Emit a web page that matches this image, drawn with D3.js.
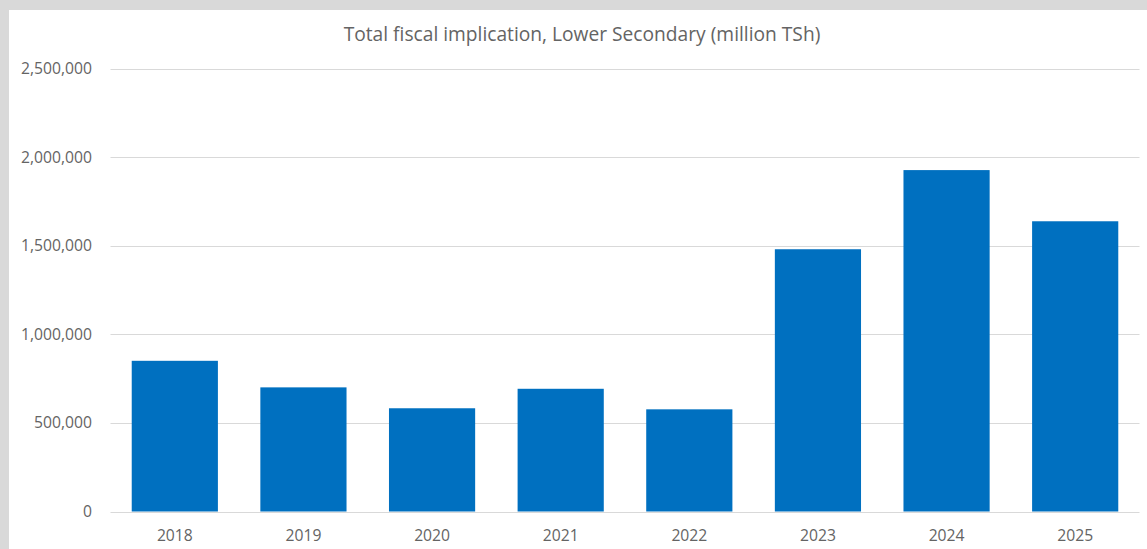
<!DOCTYPE html>
<html>
<head>
<meta charset="utf-8">
<script src="https://cdn.jsdelivr.net/npm/d3@7"></script>
<style>
  html, body { margin: 0; padding: 0; background: #d9d9d9; }
  svg { display: block; }
  text { font-family: "Open Sans", "Noto Sans", sans-serif; fill: #646464; }
</style>
</head>
<body>
<svg id="chart"></svg>
<script>
// data
const years = ["2018", "2019", "2020", "2021", "2022", "2023", "2024", "2025"];
const values = [851000, 701000, 583000, 693000, 577000, 1481000, 1928000, 1639000];
const yTicks = [0, 500000, 1000000, 1500000, 2000000, 2500000];
const title = "Total fiscal implication, Lower Secondary (million TSh)";

const width = 1147;
const height = 549;
const svg = d3.select("#chart").attr("width", width).attr("height", height);

// white chart area, gray frame on top and left
svg.append("rect").attr("x", 0).attr("y", 0).attr("width", width).attr("height", height).attr("fill", "#d9d9d9");
svg.append("rect").attr("x", 9).attr("y", 10).attr("width", width - 9).attr("height", height - 10).attr("fill", "#fff");

const plot = { left: 110.5, right: 1139.5, top: 68.8, bottom: 511.5 };

const x = d3.scaleBand()
  .domain(years)
  .range([plot.left, plot.right])
  .paddingInner(0.33)
  .paddingOuter(0.165);

const y = d3.scaleLinear()
  .domain([0, 2500000])
  .range([plot.bottom, plot.top]);

// gridlines
svg.append("g")
  .selectAll("line")
  .data(yTicks)
  .join("line")
  .attr("x1", plot.left)
  .attr("x2", plot.right)
  .attr("y1", d => Math.round(y(d)) + 0.5)
  .attr("y2", d => Math.round(y(d)) + 0.5)
  .attr("stroke", "#d9d9d9")
  .attr("stroke-width", 1);

// y axis labels
const yAxis = d3.axisLeft(y)
  .tickValues(yTicks)
  .tickFormat(d3.format(","))
  .tickSize(0)
  .tickPadding(0);
const gy = svg.append("g").attr("transform", `translate(92,0)`).call(yAxis);
gy.select(".domain").remove();
gy.selectAll("text").attr("font-size", 15.7).attr("fill", "#646464")
  .attr("font-family", "'Open Sans', 'Noto Sans', sans-serif");

// bars
svg.append("g")
  .selectAll("rect")
  .data(values)
  .join("rect")
  .attr("x", (d, i) => x(years[i]))
  .attr("y", d => y(d))
  .attr("width", x.bandwidth())
  .attr("height", d => y(0) - y(d))
  .attr("fill", "#0070c0");

// x axis labels
const xAxis = d3.axisBottom(x).tickSize(0).tickPadding(0);
const gx = svg.append("g").attr("transform", `translate(0,${plot.bottom + 18})`).call(xAxis);
gx.select(".domain").remove();
gx.selectAll("text").attr("font-size", 15.7).attr("fill", "#646464")
  .attr("font-family", "'Open Sans', 'Noto Sans', sans-serif");

// title
svg.append("text")
  .attr("x", 582)
  .attr("y", 41)
  .attr("text-anchor", "middle")
  .attr("font-size", 19.2)
  .text(title);
</script>
</body>
</html>
